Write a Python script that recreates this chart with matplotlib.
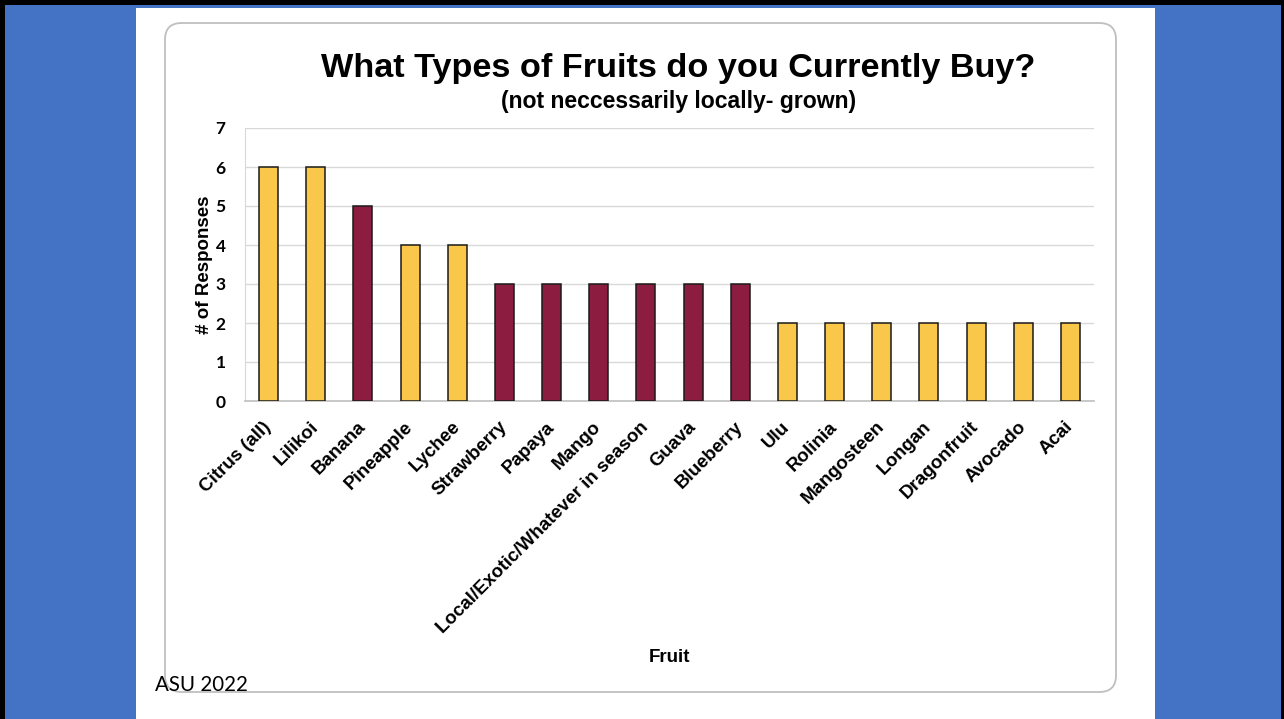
import matplotlib
matplotlib.use("Agg")
import matplotlib.pyplot as plt
from matplotlib.patches import Rectangle, FancyBboxPatch
from matplotlib.transforms import ScaledTranslation

# Survey responses
fruits = ["Citrus (all)", "Lilikoi", "Banana", "Pineapple", "Lychee", "Strawberry",
          "Papaya", "Mango", "Local/Exotic/Whatever in season", "Guava", "Blueberry",
          "Ulu", "Rolinia", "Mangosteen", "Longan", "Dragonfruit", "Avocado", "Acai"]
responses = [6, 6, 5, 4, 4, 3, 3, 3, 3, 3, 3, 2, 2, 2, 2, 2, 2, 2]
group = ["gold", "gold", "maroon", "gold", "gold", "maroon", "maroon", "maroon",
         "maroon", "maroon", "maroon", "gold", "gold", "gold", "gold", "gold",
         "gold", "gold"]
y_ticks = [0, 1, 2, 3, 4, 5, 6, 7]

palette = {"gold": "#F9C74A", "maroon": "#8C1D40"}

W, H = 1284, 719
fig = plt.figure(figsize=(W / 100, H / 100), dpi=100)
fig.patch.set_facecolor("white")


def px_rect(x0, y0, x1, y1, **kw):
    """Rectangle given in pixel coordinates measured from the top-left corner."""
    return Rectangle((x0 / W, 1 - y1 / H), (x1 - x0) / W, (y1 - y0) / H,
                     transform=fig.transFigure, **kw)


# Slide background: black frame, blue side bands, white centre panel
fig.patches.append(px_rect(0, 0, W, H, facecolor="black", edgecolor="none", zorder=0))
fig.patches.append(px_rect(5, 5, W - 3, H, facecolor="#4472C4", edgecolor="none", zorder=0))
fig.patches.append(px_rect(136, 8, 1155, H, facecolor="white", edgecolor="none", zorder=0))

# Rounded chart frame
frame = FancyBboxPatch((165 / W, 1 - 692 / H), (1116 - 165) / W, (692 - 23) / H,
                       boxstyle="round,pad=0,rounding_size=0.013",
                       transform=fig.transFigure, facecolor="white",
                       edgecolor="#BFBFBF", linewidth=1.3, zorder=0.5,
                       mutation_aspect=W / H)
fig.patches.append(frame)

ax = fig.add_axes([245 / W, 1 - 401 / H, (1094 - 245) / W, (401 - 128) / H])
ax.set_zorder(2)
ax.set_facecolor("none")

x = range(len(fruits))
ax.bar(x, responses, width=0.4, color=[palette[g] for g in group],
       edgecolor="#1a1a1a", linewidth=1.1, zorder=3)

ax.set_xlim(-0.5, len(fruits) - 0.5)
ax.set_ylim(0, 7)
ax.set_yticks(y_ticks)
ax.set_yticklabels([str(t) for t in y_ticks], fontfamily="Lato",
                   fontweight="bold", fontsize=12.5)
ax.tick_params(axis="y", length=0, pad=14)
ax.tick_params(axis="x", length=0, pad=6)
ax.set_xticks(list(x))
ax.set_xticklabels(fruits, rotation=45, ha="right", rotation_mode="anchor",
                   fontfamily="Liberation Sans", fontweight="bold", fontsize=13.5)
shift = ScaledTranslation(-6 / 100, -9 / 100, fig.dpi_scale_trans)
for lbl in ax.get_xticklabels():
    lbl.set_transform(lbl.get_transform() + shift)

ax.grid(axis="y", color="#D9D9D9", linewidth=1.0, zorder=0)
ax.set_axisbelow(True)
for side in ("top", "right"):
    ax.spines[side].set_visible(False)
ax.spines["left"].set_color("#D9D9D9")
ax.spines["bottom"].set_color("#BFBFBF")
ax.spines["bottom"].set_linewidth(1.2)

ax.set_ylabel("# of Responses", fontfamily="Liberation Sans", fontweight="bold",
              fontsize=13.5, labelpad=2)
fig.text(670 / W, 1 - 658 / H, "Fruit", ha="center", va="center",
         fontfamily="Liberation Sans", fontweight="bold", fontsize=13.5)

fig.text(678 / W, 1 - 77 / H, "What Types of Fruits do you Currently Buy?",
         ha="center", va="baseline", fontfamily="Liberation Sans",
         fontweight="bold", fontsize=24.7)
fig.text(679 / W, 1 - 108 / H, "(not neccessarily locally- grown)",
         ha="center", va="baseline", fontfamily="Liberation Sans",
         fontweight="bold", fontsize=16.6)

fig.text(155 / W, 1 - 691 / H, "ASU 2022", ha="left", va="baseline",
         fontfamily="Lato", fontsize=14.8, color="black", zorder=3)

fig.savefig("out.png", dpi=100)
